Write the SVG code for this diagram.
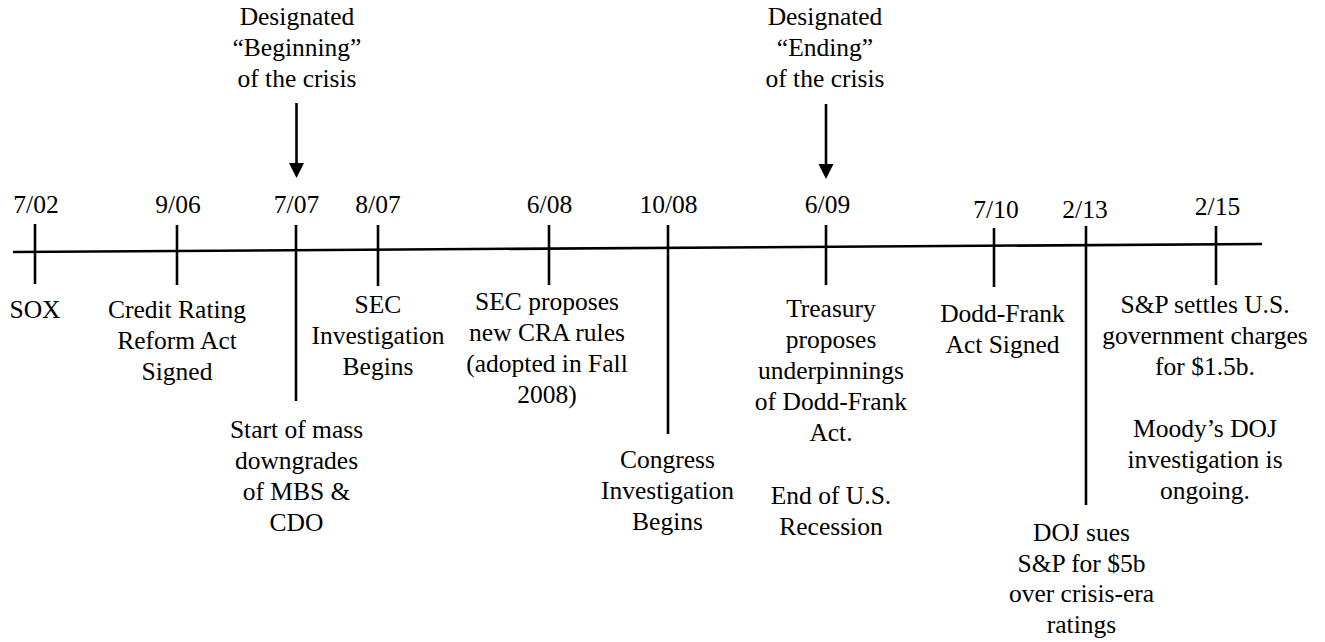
<svg xmlns="http://www.w3.org/2000/svg" width="1325" height="642" viewBox="0 0 1325 642">
<rect width="1325" height="642" fill="#fff"/>
<g id="connectors" stroke="#000" stroke-width="2.6" fill="none">
<line x1="13" y1="252" x2="1262" y2="244"/>
<line x1="35" y1="224" x2="35" y2="284"/>
<line x1="177" y1="225" x2="177" y2="285"/>
<line x1="296" y1="225" x2="296" y2="401"/>
<line x1="378" y1="225" x2="378" y2="286"/>
<line x1="549" y1="225" x2="549" y2="285"/>
<line x1="668" y1="225" x2="668" y2="434"/>
<line x1="826" y1="225" x2="826" y2="285"/>
<line x1="994" y1="228" x2="994" y2="287"/>
<line x1="1086" y1="226" x2="1086" y2="505"/>
<line x1="1216" y1="226" x2="1216" y2="285"/>
<line x1="296.5" y1="103" x2="296.5" y2="165"/>
<polygon points="289,163 304,163 296.5,178" fill="#000" stroke="none"/>
<line x1="826" y1="104" x2="826" y2="166"/>
<polygon points="818.5,164 833.5,164 826,179" fill="#000" stroke="none"/>
</g>
<g font-family="Liberation Serif" font-size="25.5" fill="#000" text-anchor="middle">
<g id="begin-note">
<text x="297" y="25">Designated</text>
<text x="297" y="56">“Beginning”</text>
<text x="297" y="87">of the crisis</text>
</g>
<g id="end-note">
<text x="825" y="25">Designated</text>
<text x="825" y="56">“Ending”</text>
<text x="825" y="87">of the crisis</text>
</g>
<g id="n-0702">
<text x="36" y="213">7/02</text>
<text x="35" y="318">SOX</text>
</g>
<g id="n-0906">
<text x="178" y="213">9/06</text>
<text x="177" y="318">Credit Rating</text>
<text x="177" y="349">Reform Act</text>
<text x="177" y="380">Signed</text>
</g>
<g id="n-0707">
<text x="296.5" y="213">7/07</text>
<text x="296.5" y="438">Start of mass</text>
<text x="296.5" y="469">downgrades</text>
<text x="296.5" y="500">of MBS &amp;</text>
<text x="296.5" y="531">CDO</text>
</g>
<g id="n-0807">
<text x="378" y="213">8/07</text>
<text x="378" y="313">SEC</text>
<text x="378" y="344">Investigation</text>
<text x="378" y="375">Begins</text>
</g>
<g id="n-0608">
<text x="549.5" y="213">6/08</text>
<text x="547" y="310">SEC proposes</text>
<text x="547" y="341">new CRA rules</text>
<text x="547" y="372">(adopted in Fall</text>
<text x="547" y="403">2008)</text>
</g>
<g id="n-1008">
<text x="668.5" y="213">10/08</text>
<text x="667.5" y="468">Congress</text>
<text x="667.5" y="499">Investigation</text>
<text x="667.5" y="530">Begins</text>
</g>
<g id="n-0609">
<text x="827.5" y="213">6/09</text>
<text x="831" y="317">Treasury</text>
<text x="831" y="348">proposes</text>
<text x="831" y="379">underpinnings</text>
<text x="831" y="410">of Dodd-Frank</text>
<text x="831" y="441">Act.</text>
<text x="831" y="504">End of U.S.</text>
<text x="831" y="535">Recession</text>
</g>
<g id="n-0710">
<text x="996" y="218">7/10</text>
<text x="1002.5" y="322">Dodd-Frank</text>
<text x="1002.5" y="353">Act Signed</text>
</g>
<g id="n-0213">
<text x="1085" y="218">2/13</text>
<text x="1081.5" y="541">DOJ sues</text>
<text x="1081.5" y="572">S&amp;P for $5b</text>
<text x="1081.5" y="602">over crisis-era</text>
<text x="1081.5" y="633">ratings</text>
</g>
<g id="n-0215">
<text x="1217.5" y="215">2/15</text>
<text x="1205" y="313">S&amp;P settles U.S.</text>
<text x="1205" y="344">government charges</text>
<text x="1205" y="375">for $1.5b.</text>
<text x="1205" y="437">Moody’s DOJ</text>
<text x="1205" y="468">investigation is</text>
<text x="1205" y="499">ongoing.</text>
</g>
</g>
</svg>
